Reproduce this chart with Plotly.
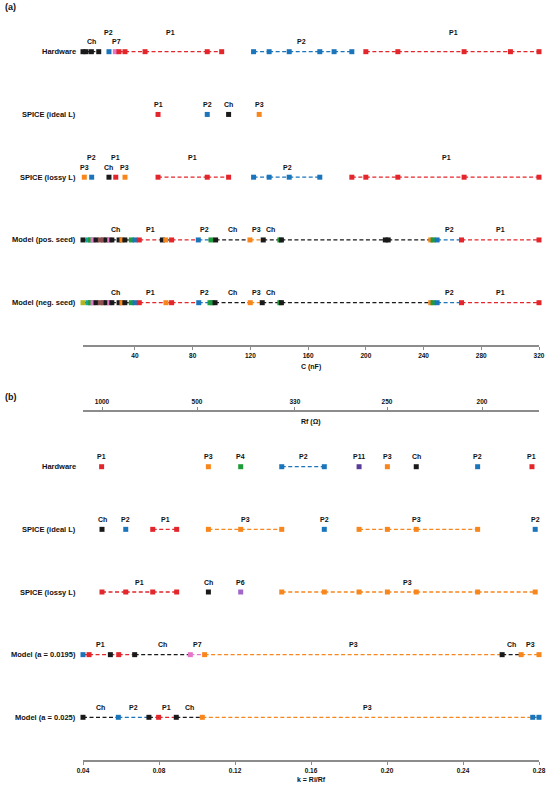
import plotly.graph_objects as go

# ---------------- colours per regime ----------------
COLORS = {
    "Ch": "#1a1a1a", "P1": "#e3262b", "P2": "#1b75bb", "P3": "#f7861c",
    "P4": "#1e9b3a", "P5": "#17a2a0", "P6": "#a066c8", "P7": "#e577c8",
    "P8": "#8c4f4f", "P9": "#b5b51f", "P11": "#5a3d99",
}

# ---------------- panel (a): C (nF) ----------------
A_ROWS = ["Hardware", "SPICE (ideal L)", "SPICE (lossy L)", "Model (pos. seed)", "Model (neg. seed)"]
A_TICKS = [40, 80, 120, 160, 200, 240, 280, 320]

A_HW_X = [4.0, 6.1, 9.8, 14.9, 22.0, 26.4, 28.9, 33.1, 47, 90.1, 100.1, 122.2, 133, 146.9, 168.1, 178,
          190.3, 200, 222.2, 268.1, 300.2, 320]
A_HW_REG = ["Ch", "Ch", "Ch", "Ch", "P2", "P7", "P1", "P1", "P1", "P1", "P1", "P2", "P2", "P2", "P2", "P2",
            "P2", "P1", "P1", "P1", "P1", "P1"]
A_HW_SEG = ["Ch", "Ch", "Ch", None, None, None, "P1", "P1", "P1", "P1", None, "P2", "P2", "P2", "P2", "P2",
            None, "P1", "P1", "P1", "P1"]
A_HW_LAB = ["Ch", "P2", "P7", "P1", "P2", "P1"]
A_HW_LAB_X = [9.8, 22.0, 26.9, 64.3, 155.7, 260.9]
A_HW_LAB_LVL = [1, 2, 1, 2, 1, 2]

A_SI_X = [56, 90.1, 104.9, 126.1]
A_SI_REG = ["P1", "P2", "Ch", "P3"]
A_SI_SEG = [None, None, None]
A_SI_LAB = ["P1", "P2", "Ch", "P3"]
A_SI_LAB_X = [56, 90.1, 104.9, 126.1]
A_SI_LAB_LVL = [1, 1, 1, 1]

A_SL_X = [4.9, 10, 22, 26.7, 33.1, 56, 90.1, 104.9, 122.2, 133, 146.9, 168.1, 190.3, 200, 222.2, 268.1, 320]
A_SL_REG = ["P3", "P2", "Ch", "P1", "P3", "P1", "P1", "P1", "P2", "P2", "P2", "P2", "P1", "P1", "P1", "P1", "P1"]
A_SL_SEG = [None, None, None, None, None, "P1", "P1", None, "P2", "P2", "P2", None, "P1", "P1", "P1", "P1"]
A_SL_LAB = ["P2", "P1", "P3", "Ch", "P3", "P1", "P2", "P1"]
A_SL_LAB_X = [10, 26.7, 4.9, 22, 33.1, 80, 145.5, 255.9]
A_SL_LAB_LVL = [2, 2, 1, 1, 1, 2, 1, 2]

A_MP_X = [4, 7.5, 9.2, 11, 13, 16, 18, 20, 22.5, 24, 29, 31, 33, 37.5, 40, 43, 59, 61.3, 65.4, 83.9, 92.7,
          95.9, 119.7, 128.9, 140.4, 141.5, 213.5, 215.5, 245, 246.6, 249.4, 266.3, 320]
A_MP_REG = ["Ch", "P5", "P4", "P7", "Ch", "P8", "P8", "Ch", "P7", "Ch", "Ch", "P3", "Ch", "P4", "P2", "P1",
            "Ch", "P3", "P1", "P2", "P4", "Ch", "P3", "Ch", "P4", "Ch", "Ch", "Ch", "P3", "P4", "P2", "P1", "P1"]
A_MP_SEG = ["Ch"] * 15 + ["P1", "Ch", "Ch", "P1", "P2", "Ch", "Ch", "P3", "Ch", "Ch", "Ch", "Ch", "Ch", "Ch",
                           "Ch", "P2", "P1"]
A_MN_X = [4, 7.5, 9.2, 11, 13, 16, 18, 20, 22.5, 24, 29, 31, 33, 37.5, 40, 43, 61.5, 65.4, 84.2, 92, 93.5,
          95.5, 119.9, 128.2, 140.4, 141.5, 245, 246.6, 249.4, 266.3, 320]
A_MN_REG = ["P9", "P5", "P4", "P7", "Ch", "P8", "P8", "Ch", "P7", "Ch", "Ch", "P3", "Ch", "P4", "P2", "P1",
            "P3", "P1", "P2", "P4", "P4", "Ch", "P3", "Ch", "P4", "Ch", "P3", "P4", "P2", "P1", "P1"]
A_MN_SEG = ["Ch"] * 15 + ["P1", "P1", "P1", "P2", "Ch", "Ch", "Ch", "P3", "Ch", "Ch", "Ch", "Ch", "Ch",
                           "P2", "P1"]
A_M_LAB = ["Ch", "P1", "P2", "Ch", "P3", "Ch", "P2", "P1"]
A_M_LAB_X = [26.2, 50.6, 88.3, 107.7, 124, 134.2, 257.7, 293.3]
A_M_LAB_LVL = [1, 1, 1, 1, 1, 1, 1, 1]

# ---------------- panel (b): k = Ri/Rf ----------------
B_ROWS = ["Hardware", "SPICE (ideal L)", "SPICE (lossy L)", "Model (a = 0.0195)", "Model (a = 0.025)"]
B_TICKS = [0.04, 0.08, 0.12, 0.16, 0.20, 0.24, 0.28]
RI = 50
RF_TICKS = [1000, 500, 330, 250, 200]

B_HW_X = [0.0498, 0.106, 0.123, 0.1446, 0.167, 0.1853, 0.2002, 0.2154, 0.2477, 0.2763]
B_HW_REG = ["P1", "P3", "P4", "P2", "P2", "P11", "P3", "Ch", "P2", "P1"]
B_HW_SEG = [None, None, None, "P2", None, None, None, None, None]
B_HW_LAB = ["P1", "P3", "P4", "P2", "P11", "P3", "Ch", "P2", "P1"]
B_HW_LAB_X = [0.0498, 0.106, 0.123, 0.156, 0.1853, 0.2002, 0.2154, 0.2477, 0.2763]

B_SI_X = [0.05, 0.0625, 0.0767, 0.0893, 0.106, 0.123, 0.1446, 0.167, 0.1853, 0.2002, 0.2154, 0.2477, 0.278]
B_SI_REG = ["Ch", "P2", "P1", "P1", "P3", "P3", "P3", "P2", "P3", "P3", "P3", "P3", "P2"]
B_SI_SEG = [None, None, "P1", None, "P3", "P3", None, None, "P3", "P3", "P3", None]
B_SI_LAB = ["Ch", "P2", "P1", "P3", "P2", "P3", "P2"]
B_SI_LAB_X = [0.05, 0.0625, 0.0832, 0.1253, 0.167, 0.2154, 0.278]

B_SL_X = [0.05, 0.0625, 0.0767, 0.0893, 0.106, 0.123, 0.1446, 0.167, 0.1853, 0.2002, 0.2154, 0.2477, 0.278]
B_SL_REG = ["P1", "P1", "P1", "P1", "Ch", "P6", "P3", "P3", "P3", "P3", "P3", "P3", "P3"]
B_SL_SEG = ["P1", "P1", "P1", None, None, None, "P3", "P3", "P3", "P3", "P3", "P3"]
B_SL_LAB = ["P1", "Ch", "P6", "P3"]
B_SL_LAB_X = [0.0695, 0.106, 0.123, 0.2109]

B_M1_X = [0.04, 0.0432, 0.0544, 0.0588, 0.0672, 0.0965, 0.104, 0.2606, 0.2706, 0.28]
B_M1_REG = ["P2", "P1", "Ch", "P1", "Ch", "P7", "P3", "Ch", "P3", "P3"]
B_M1_SEG = ["P1", "P1", "P1", "P1", "Ch", "P7", "P3", "Ch", "P3"]
B_M1_LAB = ["P1", "Ch", "P7", "P3", "Ch", "P3"]
B_M1_LAB_X = [0.0493, 0.0817, 0.1, 0.1823, 0.2653, 0.2754]

B_M2_X = [0.04, 0.0586, 0.0747, 0.0798, 0.0891, 0.1028, 0.2767, 0.28]
B_M2_REG = ["Ch", "P2", "Ch", "P1", "Ch", "P3", "P2", "P2"]
B_M2_SEG = ["Ch", "P2", "Ch", "P1", "Ch", "P3", "P2"]
B_M2_LAB = ["Ch", "P2", "P1", "Ch", "P3"]
B_M2_LAB_X = [0.0491, 0.0665, 0.0841, 0.0958, 0.1896]

FONT = "Liberation Sans, Arial, sans-serif"

W, H = 550, 786
PL, PR = 83, 539.3          # plot area edges in window pixels


def py(p):   # pixel row -> paper fraction
    return 1 - p / H


def px(p):   # pixel column -> paper fraction
    return (p - PL) / (PR - PL)


fig = go.Figure()
annotations = []


def add_row(xs, regs, segs, yval, xa, ya):
    groups = {}
    for i, s in enumerate(segs):
        if s is None:
            continue
        gx, gy = groups.setdefault(s, ([], []))
        gx += [xs[i], xs[i + 1], None]
        gy += [yval, yval, None]
    for reg, (gx, gy) in groups.items():
        fig.add_trace(go.Scatter(x=gx, y=gy, mode="lines", xaxis=xa, yaxis=ya, hoverinfo="skip",
                                 line=dict(color=COLORS[reg], width=1.3, dash="4px,2.5px"),
                                 showlegend=False, cliponaxis=False))
    fig.add_trace(go.Scatter(x=xs, y=[yval] * len(xs), mode="markers", xaxis=xa, yaxis=ya,
                             marker=dict(symbol="square", size=5, color=[COLORS[r] for r in regs],
                                         line=dict(width=0)),
                             showlegend=False, cliponaxis=False))


def add_labels(texts, xs, lvls, yval, xref, yref):
    for t, x, l in zip(texts, xs, lvls):
        annotations.append(dict(x=x, y=yval, xref=xref, yref=yref, text=t, showarrow=False,
                                yanchor="middle", yshift=10 if l == 1 else 19.5,
                                font=dict(family=FONT, size=7, color="#111", weight="bold")))


def add_rowname(name, yval, yref):
    annotations.append(dict(x=0, y=yval, xref="paper", yref=yref, text=name, showarrow=False,
                            xanchor="right", yanchor="middle", xshift=-5,
                            font=dict(family=FONT, size=7.5, color="#111", weight="bold")))


a_rows = [
    (A_HW_X, A_HW_REG, A_HW_SEG, A_HW_LAB, A_HW_LAB_X, A_HW_LAB_LVL),
    (A_SI_X, A_SI_REG, A_SI_SEG, A_SI_LAB, A_SI_LAB_X, A_SI_LAB_LVL),
    (A_SL_X, A_SL_REG, A_SL_SEG, A_SL_LAB, A_SL_LAB_X, A_SL_LAB_LVL),
    (A_MP_X, A_MP_REG, A_MP_SEG, A_M_LAB, A_M_LAB_X, A_M_LAB_LVL),
    (A_MN_X, A_MN_REG, A_MN_SEG, A_M_LAB, A_M_LAB_X, A_M_LAB_LVL),
]
for i, (xs, regs, segs, lab, labx, lvl) in enumerate(a_rows):
    yv = 4 - i
    add_row(xs, regs, segs, yv, "x", "y")
    add_labels(lab, labx, lvl, yv, "x", "y")
    add_rowname(A_ROWS[i], yv, "y")

b_rows = [
    (B_HW_X, B_HW_REG, B_HW_SEG, B_HW_LAB, B_HW_LAB_X),
    (B_SI_X, B_SI_REG, B_SI_SEG, B_SI_LAB, B_SI_LAB_X),
    (B_SL_X, B_SL_REG, B_SL_SEG, B_SL_LAB, B_SL_LAB_X),
    (B_M1_X, B_M1_REG, B_M1_SEG, B_M1_LAB, B_M1_LAB_X),
    (B_M2_X, B_M2_REG, B_M2_SEG, B_M2_LAB, B_M2_LAB_X),
]
for i, (xs, regs, segs, lab, labx) in enumerate(b_rows):
    yv = 4 - i
    add_row(xs, regs, segs, yv, "x2", "y2")
    add_labels(lab, labx, [1] * len(lab), yv, "x2", "y2")
    add_rowname(B_ROWS[i], yv, "y2")

fig.add_trace(go.Scatter(x=[B_TICKS[0]], y=[None], xaxis="x3", yaxis="y2", showlegend=False,
                         hoverinfo="skip", mode="markers"))

tickfont = dict(family=FONT, size=6.5, color="#111", weight="bold")
axcommon = dict(showgrid=False, zeroline=False, showline=True, linecolor="#8c8c8c", linewidth=2,
                ticks="outside", ticklen=3, tickwidth=1, tickcolor="#8c8c8c", tickfont=tickfont,
                automargin=False)

titlefont = dict(family=FONT, size=7, color="#111", weight="bold")
annotations += [
    dict(x=0.5, y=py(367), xref="paper", yref="paper", text="C (nF)", showarrow=False,
         yanchor="middle", font=titlefont),
    dict(x=0.5, y=py(779.5), xref="paper", yref="paper", text="k = Ri/Rf", showarrow=False,
         yanchor="middle", font=titlefont),
    dict(x=0.5, y=py(421.7), xref="paper", yref="paper", text="Rf (Ω)", showarrow=False,
         yanchor="middle", font=titlefont),
    dict(x=px(3.3), y=py(7.5), xref="paper", yref="paper", text="(a)", showarrow=False, xanchor="left",
         yanchor="middle", font=dict(family=FONT, size=9, color="#111", weight="bold")),
    dict(x=px(3.3), y=py(396.7), xref="paper", yref="paper", text="(b)", showarrow=False, xanchor="left",
         yanchor="middle", font=dict(family=FONT, size=9, color="#111", weight="bold")),
]

fig.update_layout(
    width=W, height=H, margin=dict(l=PL, r=W - PR, t=0, b=0),
    paper_bgcolor="white", plot_bgcolor="white",
    xaxis=dict(domain=[0, 1], anchor="y", range=[4, 320], tickvals=A_TICKS, **axcommon),
    yaxis=dict(domain=[py(345), py(20)], range=[-0.674, 4.505], visible=False),
    xaxis2=dict(domain=[0, 1], anchor="y2", range=[0.04, 0.28], tickvals=B_TICKS,
                ticktext=[f"{t:.2f}" for t in B_TICKS], **axcommon),
    xaxis3=dict(anchor="y2", overlaying="x2", side="top", range=[0.04, 0.28],
                tickvals=[RI / r for r in RF_TICKS], ticktext=[str(r) for r in RF_TICKS], **axcommon),
    yaxis2=dict(domain=[py(760), py(411.7)], range=[-0.6816, 4.878], visible=False),
    annotations=annotations,
    showlegend=False,
)

fig.write_html("out.html", config={"displayModeBar": False},
               post_script="document.body.style.margin='0';document.body.style.overflow='hidden';")
